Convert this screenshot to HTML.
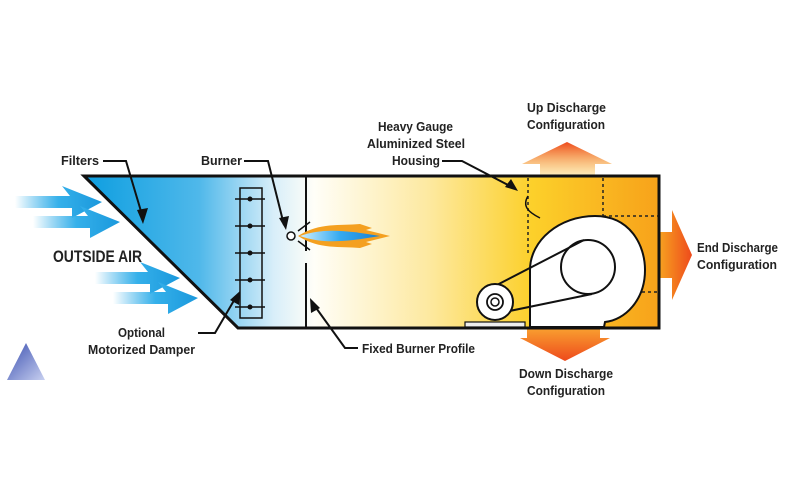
<!DOCTYPE html>
<html><head><meta charset="utf-8"><style>
html,body{margin:0;padding:0;background:#fff;width:800px;height:500px;overflow:hidden}
text{font-family:"Liberation Sans",sans-serif;font-weight:bold;fill:#222;font-size:13px}
</style></head><body>
<svg width="800" height="500" viewBox="0 0 800 500" xmlns="http://www.w3.org/2000/svg">
<defs>
<linearGradient id="body" x1="84" y1="0" x2="659" y2="0" gradientUnits="userSpaceOnUse">
<stop offset="0" stop-color="#0d9ee0"/>
<stop offset="0.2" stop-color="#4fb8ea"/>
<stop offset="0.33" stop-color="#d8eef9"/>
<stop offset="0.4" stop-color="#fffef8"/>
<stop offset="0.6" stop-color="#fde9a0"/>
<stop offset="0.78" stop-color="#fcd02a"/>
<stop offset="1" stop-color="#f7a21a"/>
</linearGradient>
<linearGradient id="air" x1="0" y1="0" x2="1" y2="0">
<stop offset="0" stop-color="#1aa3e6" stop-opacity="0"/>
<stop offset="0.5" stop-color="#35b0ea"/>
<stop offset="1" stop-color="#1a98dc"/>
</linearGradient>
<linearGradient id="up" x1="0" y1="1" x2="0" y2="0">
<stop offset="0" stop-color="#f9c530" stop-opacity="0.3"/>
<stop offset="1" stop-color="#ee4a1c"/>
</linearGradient>
<linearGradient id="dn" x1="0" y1="0" x2="0" y2="1">
<stop offset="0" stop-color="#f9a030"/>
<stop offset="1" stop-color="#ee4a1c"/>
</linearGradient>
<linearGradient id="end" x1="0" y1="0" x2="1" y2="0">
<stop offset="0" stop-color="#f7a020"/>
<stop offset="1" stop-color="#ee4a1c"/>
</linearGradient>
<linearGradient id="flame" x1="0" y1="0" x2="1" y2="0">
<stop offset="0" stop-color="#cfefff"/>
<stop offset="0.5" stop-color="#35aaf0"/>
<stop offset="1" stop-color="#1a7fd0"/>
</linearGradient>
<linearGradient id="tri" x1="0" y1="0" x2="1" y2="1">
<stop offset="0" stop-color="#3a4fb0"/>
<stop offset="1" stop-color="#c8d0f0"/>
</linearGradient>
</defs>

<polygon points="567,142 612,164 595,164 595,177 540,177 540,164 522,164" fill="url(#up)"/>
<polygon points="84,176 659,176 659,328 238,328" fill="url(#body)"/>
<polygon points="527,328 600,328 600,338 610,338 565,361 520,338 527,338" fill="url(#dn)"/>
<polygon points="660,232 672,232 672,210 692,255 672,300 672,278 660,278" fill="url(#end)"/>

<g fill="url(#air)">
<polygon points="15,196 70,196 62,186 102,202 72,218 72,208 15,208"/>
<polygon points="33,216 88,216 80,206 120,222 90,238 90,228 33,228"/>
<polygon points="95,272 148,272 140,262 180,278 150,294 150,284 95,284"/>
<polygon points="113,292 166,292 158,282 198,298 168,314 168,304 113,304"/>
</g>

<polygon points="84,176 659,176 659,328 238,328" fill="none" stroke="#111" stroke-width="3"/>

<rect x="240" y="188" width="22" height="130" fill="none" stroke="#111" stroke-width="1.5"/>
<g stroke="#111" stroke-width="1.5">
<line x1="235" y1="199" x2="265" y2="199"/><line x1="235" y1="226" x2="265" y2="226"/><line x1="235" y1="253" x2="265" y2="253"/><line x1="235" y1="280" x2="265" y2="280"/><line x1="235" y1="307" x2="265" y2="307"/>
</g>
<g fill="#111"><circle cx="250" cy="199" r="2.5"/><circle cx="250" cy="226" r="2.5"/><circle cx="250" cy="253" r="2.5"/><circle cx="250" cy="280" r="2.5"/><circle cx="250" cy="307" r="2.5"/></g>
<line x1="306" y1="176" x2="306" y2="251" stroke="#111" stroke-width="2"/>
<line x1="306" y1="263" x2="306" y2="328" stroke="#111" stroke-width="2"/>
<path d="M298,236 C320,222 340,226 360,224 L372,228 L366,230 L390,236 L366,242 L372,244 L360,248 C340,246 320,250 298,236 Z" fill="#f4a020"/>
<path d="M300,236 C322,228 345,230 380,236 C345,242 322,244 300,236 Z" fill="url(#flame)"/>
<path d="M298,231 L310,222 M298,241 L310,250" stroke="#111" stroke-width="1.5" fill="none"/>
<circle cx="291" cy="236" r="4" fill="#fff" stroke="#111" stroke-width="1.5"/>

<g stroke="#222" stroke-width="1.5" stroke-dasharray="3,3" fill="none">
<line x1="528" y1="178" x2="528" y2="256"/>
<line x1="603" y1="178" x2="603" y2="216"/>
<line x1="603" y1="216" x2="658" y2="216"/>
<line x1="636" y1="292" x2="658" y2="292"/>
</g>
<path d="M530,327 L530,270 C530,240 560,216 595,216 C630,216 645,245 645,270 C645,300 625,320 605,322 L604,327 Z" fill="#fff" stroke="#111" stroke-width="2"/>
<circle cx="588" cy="267" r="27" fill="#fff" stroke="#111" stroke-width="2"/>
<line x1="495" y1="286" x2="584" y2="240" stroke="#111" stroke-width="2"/>
<line x1="495" y1="314" x2="592" y2="294" stroke="#111" stroke-width="2"/>
<rect x="465" y="322" width="60" height="5" fill="#eee" stroke="#111" stroke-width="1.2"/>
<circle cx="495" cy="302" r="18" fill="#fff" stroke="#111" stroke-width="2"/>
<circle cx="495" cy="302" r="8" fill="#fff" stroke="#111" stroke-width="1.8"/>
<circle cx="495" cy="302" r="4" fill="#fff" stroke="#111" stroke-width="1.5"/>

<path d="M528,196 C522,206 528,212 540,218" stroke="#111" stroke-width="1.5" fill="none"/>

<g stroke="#111" stroke-width="2" fill="none">
<path d="M103,161 L126,161 L143,218"/>
<path d="M244,161 L268,161 L284,225"/>
<path d="M442,161 L462,161 L512,187"/>
<path d="M198,333 L215,333 L236,297"/>
<path d="M358,348 L345,348 L314,305"/>
</g>
<g fill="#111">
<polygon points="143,224 137,210 148,208"/>
<polygon points="286,230 279,218 289,216"/>
<polygon points="518,191 505,187 511,179"/>
<polygon points="240,291 239,305 230,300"/>
<polygon points="310,298 320,308 311,313"/>
</g>

<g lengthAdjust="spacingAndGlyphs">
<text x="61" y="165" textLength="38" lengthAdjust="spacingAndGlyphs">Filters</text>
<text x="201" y="165" textLength="41" lengthAdjust="spacingAndGlyphs">Burner</text>
<text x="53" y="262" style="font-size:17px" textLength="89" lengthAdjust="spacingAndGlyphs">OUTSIDE AIR</text>
<text x="118" y="337" textLength="47" lengthAdjust="spacingAndGlyphs">Optional</text>
<text x="88" y="354" textLength="107" lengthAdjust="spacingAndGlyphs">Motorized Damper</text>
<text x="362" y="353" textLength="113" lengthAdjust="spacingAndGlyphs">Fixed Burner Profile</text>
<text x="378" y="131" textLength="75" lengthAdjust="spacingAndGlyphs">Heavy Gauge</text>
<text x="367" y="148" textLength="98" lengthAdjust="spacingAndGlyphs">Aluminized Steel</text>
<text x="392" y="165" textLength="48" lengthAdjust="spacingAndGlyphs">Housing</text>
<text x="527" y="112" textLength="79" lengthAdjust="spacingAndGlyphs">Up Discharge</text>
<text x="527" y="129" textLength="78" lengthAdjust="spacingAndGlyphs">Configuration</text>
<text x="697" y="252" textLength="81" lengthAdjust="spacingAndGlyphs">End Discharge</text>
<text x="697" y="269" textLength="80" lengthAdjust="spacingAndGlyphs">Configuration</text>
<text x="519" y="378" textLength="94" lengthAdjust="spacingAndGlyphs">Down Discharge</text>
<text x="527" y="395" textLength="78" lengthAdjust="spacingAndGlyphs">Configuration</text>
</g>

<polygon points="26,343 45,380 7,380" fill="url(#tri)"/>
</svg>
</body></html>
